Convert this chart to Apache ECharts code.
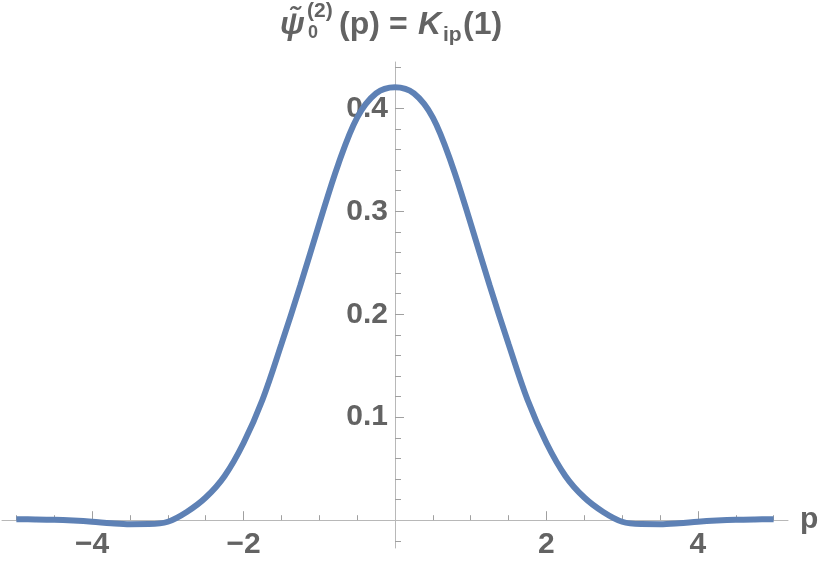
<!DOCTYPE html>
<html>
<head>
<meta charset="utf-8">
<script src="https://cdn.jsdelivr.net/npm/echarts@6/dist/echarts.min.js"></script>
<style>
  html, body { margin: 0; padding: 0; background: #fff; }
  #chart { width: 830px; height: 568px; }
</style>
</head>
<body>
<div id="chart"></div>
<script>
  // values, p from -5 to 5 in steps of 0.25
  const pValues = [
    -5, -4.75, -4.5, -4.25, -4, -3.75, -3.5, -3.25, -3, -2.75, -2.5, -2.25, -2, -1.75, -1.5, -1.25, -1, -0.75, -0.5, -0.25,
    0, 0.25, 0.5, 0.75, 1, 1.25, 1.5, 1.75, 2, 2.25, 2.5, 2.75, 3, 3.25, 3.5, 3.75, 4, 4.25, 4.5, 4.75, 5,
  ];
  const psiValues = [
    0.001, 0.0008, 0.0004, -0.0004, -0.0015, -0.003, -0.0039, -0.0038, -0.0015, 0.008, 0.022, 0.043, 0.075, 0.117, 0.171, 0.228, 0.288, 0.3455, 0.391, 0.4145,
    0.4205, 0.4145, 0.391, 0.3455, 0.288, 0.228, 0.171, 0.117, 0.075, 0.043, 0.022, 0.008, -0.0015, -0.0038, -0.0039, -0.003, -0.0015, -0.0004, 0.0004, 0.0008, 0.001,
  ];
  const xMajorTicks = [-4, -2, 2, 4];
  const xMinorTicks = [-5, -4.5, -3.5, -3, -2.5, -1.5, -1, -0.5, 0.5, 1, 1.5, 2.5, 3, 3.5, 4.5, 5];
  const yMajorTicks = [0.1, 0.2, 0.3, 0.4];
  const yMinorTicks = [-0.02, 0.02, 0.04, 0.06, 0.08, 0.12, 0.14, 0.16, 0.18, 0.22, 0.24, 0.26, 0.28, 0.32, 0.34, 0.36, 0.38, 0.42, 0.44];

  const textColor = '#636363';
  const fontFamily = '"Liberation Sans", Arial, sans-serif';
  const axisColor = '#b8b8b8';
  const tickColor = '#a0a0a0';

  const xMin = -5.19, xMax = 5.19;
  const yMin = -0.027, yMax = 0.445;

  const chart = echarts.init(document.getElementById('chart'));

  const labelStyle = {
    color: textColor,
    fontSize: 30,
    fontWeight: 'bold',
    fontFamily: fontFamily,
  };

  // axes that sit on the origin: line + ticks only
  const onZeroX = (extra) => Object.assign({
    type: 'value', min: xMin, max: xMax,
    splitLine: { show: false },
    axisLabel: { show: false },
  }, extra);
  const onZeroY = (extra) => Object.assign({
    type: 'value', min: yMin, max: yMax,
    splitLine: { show: false },
    axisLabel: { show: false },
  }, extra);

  chart.setOption({
    animation: false,
    grid: { left: 2, right: 42, top: 62, bottom: 20, containLabel: false, outerBoundsMode: 'none' },
    graphic: [
      { type: 'text', x: 280, y: 25, style: { text: 'ψ\u0303', font: 'italic bold 32px ' + fontFamily, fill: textColor, verticalAlign: 'middle' } },
      { type: 'text', x: 308, y: 33, style: { text: '0', font: 'bold 18px ' + fontFamily, fill: textColor, verticalAlign: 'middle' } },
      { type: 'text', x: 307, y: 11, style: { text: '(2)', font: 'bold 21px ' + fontFamily, fill: textColor, verticalAlign: 'middle' } },
      { type: 'text', x: 339, y: 25, style: { text: '(p)', font: 'bold 32px ' + fontFamily, fill: textColor, verticalAlign: 'middle' } },
      { type: 'text', x: 389, y: 25, style: { text: '=', font: 'bold 32px ' + fontFamily, fill: textColor, verticalAlign: 'middle' } },
      { type: 'text', x: 418, y: 25, style: { text: 'K', font: 'italic bold 32px ' + fontFamily, fill: textColor, verticalAlign: 'middle' } },
      { type: 'text', x: 443, y: 35, style: { text: 'ip', font: 'bold 21px ' + fontFamily, fill: textColor, verticalAlign: 'middle' } },
      { type: 'text', x: 463, y: 25, style: { text: '(1)', font: 'bold 32px ' + fontFamily, fill: textColor, verticalAlign: 'middle' } },
    ],
    xAxis: [
      onZeroX({
        name: 'p',
        nameLocation: 'end',
        nameGap: 12,
        nameTextStyle: Object.assign({ verticalAlign: 'middle' }, labelStyle),
        axisLine: { onZero: true, onZeroAxisIndex: 0, lineStyle: { color: axisColor, width: 1 } },
        axisTick: { show: true, inside: true, length: 9, customValues: xMajorTicks, lineStyle: { color: tickColor } },
      }),
      onZeroX({
        position: 'bottom',
        axisLine: { show: false, onZero: true, onZeroAxisIndex: 0 },
        axisTick: { show: true, inside: true, length: 5, customValues: xMinorTicks, lineStyle: { color: tickColor } },
      }),
      // tick labels only, shifted up from the grid bottom to the zero line
      {
        type: 'value', min: xMin, max: xMax,
        position: 'bottom',
        offset: -28,
        splitLine: { show: false },
        axisLine: { show: false, onZero: false },
        axisTick: { show: false },
        axisLabel: Object.assign({
          show: true,
          customValues: xMajorTicks,
          margin: 10,
          formatter: (v) => (v < 0 ? '\u2212' + Math.abs(v) : String(v)),
        }, labelStyle),
      },
    ],
    yAxis: [
      onZeroY({
        axisLine: { onZero: true, onZeroAxisIndex: 0, lineStyle: { color: axisColor, width: 1 } },
        axisTick: { show: true, inside: true, length: 9, customValues: yMajorTicks, lineStyle: { color: tickColor } },
      }),
      onZeroY({
        position: 'left',
        axisLine: { show: false, onZero: true, onZeroAxisIndex: 0 },
        axisTick: { show: true, inside: true, length: 6, customValues: yMinorTicks, lineStyle: { color: tickColor } },
      }),
      // tick labels only, shifted right from the grid edge to the zero line
      {
        type: 'value', min: yMin, max: yMax,
        position: 'left',
        offset: -393,
        splitLine: { show: false },
        axisLine: { show: false, onZero: false },
        axisTick: { show: false },
        axisLabel: Object.assign({
          show: true,
          customValues: yMajorTicks,
          margin: 7,
          formatter: (v) => v.toFixed(1),
        }, labelStyle),
      },
    ],
    series: [
      {
        type: 'line',
        xAxisIndex: 0,
        yAxisIndex: 0,
        data: pValues.map((p, i) => [p, psiValues[i]]),
        smooth: 0.35,
        showSymbol: false,
        lineStyle: { color: '#5e81b5', width: 6 },
        z: 5,
      },
    ],
  });
</script>
</body>
</html>
